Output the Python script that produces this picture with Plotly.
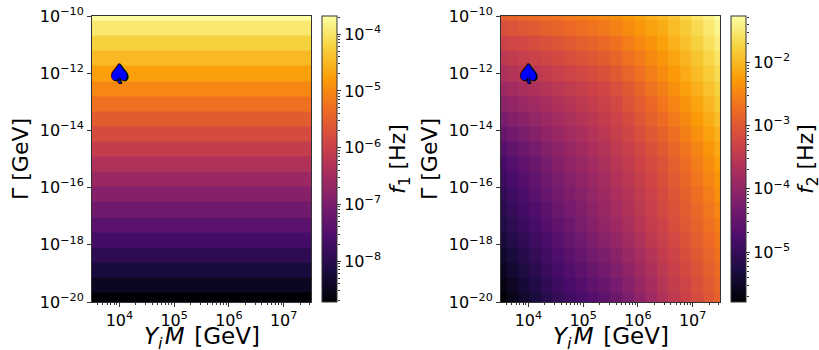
import plotly.graph_objects as go
import math

# ---------------- data (log10 exponents) ----------------
m_exp = [3.50, 3.71, 3.92, 4.13, 4.34, 4.55, 4.76, 4.97, 5.18, 5.39,
         5.61, 5.82, 6.03, 6.24, 6.45, 6.66, 6.87, 7.08, 7.29, 7.50]
gamma_exp = [-19.94, -19.41, -18.88, -18.36, -17.83, -17.30, -16.77, -16.24, -15.71, -15.18,
             -14.66, -14.13, -13.60, -13.07, -12.54, -12.01, -11.49, -10.96, -10.43, -9.90]

# f1 depends only on Gamma (one value per row, bottom -> top), log10 Hz
f1_exp = [-8.72, -8.46, -8.19, -7.93, -7.66, -7.40, -7.13, -6.87, -6.61, -6.34,
          -6.08, -5.81, -5.55, -5.28, -5.02, -4.76, -4.49, -4.23, -3.96, -3.70]

# f2 grid, rows bottom -> top (Gamma), columns left -> right (Y_i M), log10 Hz
f2_exp = [
    [-5.78, -5.62, -5.47, -5.31, -5.16, -5.01, -4.90, -4.80, -4.69, -4.58, -4.42, -4.23, -4.04, -3.85, -3.66, -3.49, -3.34, -3.19, -3.04, -2.89],
    [-5.67, -5.52, -5.36, -5.21, -5.06, -4.91, -4.80, -4.69, -4.57, -4.46, -4.31, -4.12, -3.94, -3.76, -3.58, -3.43, -3.28, -3.13, -2.98, -2.83],
    [-5.56, -5.41, -5.26, -5.11, -4.96, -4.82, -4.70, -4.58, -4.46, -4.34, -4.19, -4.02, -3.85, -3.68, -3.51, -3.36, -3.21, -3.06, -2.92, -2.77],
    [-5.45, -5.31, -5.16, -5.02, -4.87, -4.73, -4.60, -4.48, -4.35, -4.23, -4.08, -3.92, -3.76, -3.60, -3.44, -3.29, -3.14, -2.99, -2.85, -2.70],
    [-5.34, -5.20, -5.05, -4.91, -4.77, -4.63, -4.50, -4.37, -4.24, -4.11, -3.96, -3.81, -3.66, -3.51, -3.37, -3.22, -3.07, -2.93, -2.78, -2.64],
    [-5.23, -5.09, -4.95, -4.81, -4.67, -4.53, -4.40, -4.26, -4.13, -3.99, -3.86, -3.72, -3.57, -3.43, -3.29, -3.15, -3.00, -2.86, -2.71, -2.57],
    [-5.13, -4.99, -4.85, -4.71, -4.58, -4.44, -4.31, -4.18, -4.05, -3.93, -3.79, -3.65, -3.51, -3.37, -3.23, -3.09, -2.94, -2.79, -2.64, -2.49],
    [-5.03, -4.89, -4.75, -4.61, -4.48, -4.34, -4.22, -4.10, -3.98, -3.85, -3.72, -3.59, -3.45, -3.32, -3.18, -3.03, -2.88, -2.72, -2.57, -2.41],
    [-4.93, -4.79, -4.66, -4.52, -4.38, -4.25, -4.13, -4.02, -3.90, -3.78, -3.65, -3.52, -3.39, -3.25, -3.12, -2.97, -2.81, -2.65, -2.49, -2.33],
    [-4.83, -4.69, -4.56, -4.42, -4.28, -4.15, -4.04, -3.93, -3.81, -3.70, -3.57, -3.45, -3.32, -3.20, -3.07, -2.91, -2.75, -2.58, -2.42, -2.25],
    [-4.67, -4.54, -4.42, -4.29, -4.17, -4.04, -3.94, -3.83, -3.72, -3.62, -3.49, -3.36, -3.24, -3.11, -2.98, -2.82, -2.66, -2.49, -2.33, -2.16],
    [-4.47, -4.36, -4.25, -4.14, -4.02, -3.92, -3.82, -3.72, -3.62, -3.52, -3.40, -3.27, -3.14, -3.00, -2.87, -2.72, -2.55, -2.39, -2.22, -2.06],
    [-4.27, -4.17, -4.08, -3.98, -3.88, -3.79, -3.70, -3.61, -3.52, -3.44, -3.32, -3.18, -3.04, -2.90, -2.76, -2.61, -2.45, -2.28, -2.12, -1.96],
    [-4.07, -3.99, -3.91, -3.83, -3.75, -3.67, -3.59, -3.51, -3.42, -3.34, -3.23, -3.08, -2.94, -2.80, -2.65, -2.50, -2.34, -2.18, -2.02, -1.86],
    [-3.87, -3.80, -3.74, -3.67, -3.61, -3.54, -3.47, -3.40, -3.32, -3.25, -3.13, -2.99, -2.84, -2.69, -2.55, -2.39, -2.23, -2.08, -1.92, -1.76],
    [-3.68, -3.62, -3.56, -3.50, -3.44, -3.37, -3.30, -3.23, -3.17, -3.10, -2.99, -2.85, -2.71, -2.57, -2.43, -2.28, -2.13, -1.97, -1.82, -1.66],
    [-3.51, -3.45, -3.39, -3.33, -3.27, -3.21, -3.15, -3.08, -3.01, -2.95, -2.84, -2.71, -2.59, -2.46, -2.33, -2.18, -2.03, -1.88, -1.72, -1.57],
    [-3.33, -3.27, -3.22, -3.16, -3.10, -3.05, -2.98, -2.92, -2.86, -2.79, -2.70, -2.58, -2.46, -2.34, -2.22, -2.07, -1.92, -1.77, -1.62, -1.47],
    [-3.12, -3.07, -3.01, -2.96, -2.90, -2.85, -2.80, -2.74, -2.68, -2.62, -2.54, -2.44, -2.33, -2.21, -2.12, -1.98, -1.83, -1.68, -1.53, -1.38],
    [-2.90, -2.86, -2.81, -2.76, -2.72, -2.68, -2.63, -2.58, -2.53, -2.48, -2.41, -2.31, -2.21, -2.10, -2.00, -1.87, -1.72, -1.57, -1.43, -1.28],
]

# benchmark point (spade)
spade_m = [4.0]
spade_g = [-12.0]

# ticks
x_tickvals = [4, 5, 6, 7]
x_ticktext = ["10<sup>4</sup>", "10<sup>5</sup>", "10<sup>6</sup>", "10<sup>7</sup>"]
y_tickvals = [-20, -18, -16, -14, -12, -10]
y_ticktext = ["10<sup>\u221220</sup>", "10<sup>\u221218</sup>", "10<sup>\u221216</sup>",
              "10<sup>\u221214</sup>", "10<sup>\u221212</sup>", "10<sup>\u221210</sup>"]
cb1_tickvals = [-8, -7, -6, -5, -4]
cb1_ticktext = ["10<sup>\u22128</sup>", "10<sup>\u22127</sup>", "10<sup>\u22126</sup>",
                "10<sup>\u22125</sup>", "10<sup>\u22124</sup>"]
cb2_tickvals = [-5, -4, -3, -2]
cb2_ticktext = ["10<sup>\u22125</sup>", "10<sup>\u22124</sup>", "10<sup>\u22123</sup>",
                "10<sup>\u22122</sup>"]

cb1_range = [-8.72, -3.68]
cb2_range = [-5.79, -1.27]
x_range = [3.5, 7.5]
y_range = [-20, -10]

# ---------------- layout helpers ----------------
W, H = 819, 350
def px(x):
    return x / W
def py(y):
    return 1 - y / H

FONT = "DejaVu Sans"
AX = "#333333"

def minor_log(lo, hi):
    vals = []
    for n in range(math.floor(lo) - 1, math.ceil(hi) + 1):
        for k in range(2, 10):
            v = n + math.log10(k)
            if lo <= v <= hi:
                vals.append(v)
    return vals

def cbar(x_left, tv, tt):
    return dict(
        thickness=15, thicknessmode="pixels",
        len=(302 - 16) / H, lenmode="fraction",
        x=px(x_left), xanchor="left", xpad=0,
        y=py(159), yanchor="middle", ypad=0,
        outlinewidth=1, outlinecolor=AX,
        tickmode="array", tickvals=tv, ticktext=tt,
        ticks="outside", ticklen=4, tickwidth=1, tickcolor=AX,
        tickfont=dict(family=FONT, size=16, color="black"),
    )

fig = go.Figure()

z1 = [[v] * len(m_exp) for v in f1_exp]
fig.add_trace(go.Heatmap(
    x=m_exp, y=gamma_exp, z=z1, colorscale="Inferno",
    zmin=cb1_range[0], zmax=cb1_range[1], xaxis="x", yaxis="y",
    hoverinfo="skip", colorbar=cbar(322, cb1_tickvals, cb1_ticktext)))
fig.add_trace(go.Heatmap(
    x=m_exp, y=gamma_exp, z=f2_exp, colorscale="Inferno",
    zmin=cb2_range[0], zmax=cb2_range[1], xaxis="x2", yaxis="y2",
    hoverinfo="skip", colorbar=cbar(731, cb2_tickvals, cb2_ticktext)))

# dummy traces for the colorbar minor-tick axes
for ya in ("y3", "y4"):
    fig.add_trace(go.Scatter(x=[None], y=[None], xaxis="x" if ya == "y3" else "x2",
                             yaxis=ya, showlegend=False, hoverinfo="skip"))

minor_x = minor_log(x_range[0], x_range[1])

def xaxis(d0, d1, anchor):
    return dict(domain=[px(d0), px(d1)], range=x_range, anchor=anchor, automargin=False,
                tickmode="array", tickvals=x_tickvals, ticktext=x_ticktext,
                ticks="outside", ticklen=4, tickwidth=1, tickcolor=AX,
                showline=True, linecolor=AX, linewidth=1, mirror=True,
                showgrid=False, zeroline=False,
                tickfont=dict(family=FONT, size=16, color="black"),
                minor=dict(tickmode="array", tickvals=minor_x, ticks="outside",
                           ticklen=2, tickwidth=1, tickcolor=AX, showgrid=False))

def yaxis(anchor):
    return dict(domain=[py(302), py(16)], range=y_range, anchor=anchor, automargin=False,
                tickmode="array", tickvals=y_tickvals, ticktext=y_ticktext,
                ticks="outside", ticklen=4, tickwidth=1, tickcolor=AX,
                showline=True, linecolor=AX, linewidth=1, mirror=True,
                showgrid=False, zeroline=False,
                tickfont=dict(family=FONT, size=16, color="black"))

def minor_axis(over, pos, rng):
    return dict(overlaying=over, anchor="free", position=px(pos), side="right",
                automargin=False,
                range=rng, tickmode="array", tickvals=minor_log(rng[0], rng[1]),
                ticks="outside", ticklen=2, tickwidth=1, tickcolor=AX,
                showticklabels=False, showgrid=False, zeroline=False, showline=False)

ann = []
def add_ann(text, x, y, angle=0, size=22):
    ann.append(dict(text=text, x=px(x), y=py(y), xref="paper", yref="paper",
                    showarrow=False, textangle=angle, xanchor="center", yanchor="middle",
                    font=dict(family=FONT, size=size, color="black")))

add_ann("\u0393 [GeV]", 20, 159, -90)
add_ann("\u0393 [GeV]", 429, 159, -90)
xtitle = "<i>Y<sub>i</sub>\u200aM</i>\u200a [GeV]"
add_ann(xtitle, 201.5, 338, size=23)
add_ann(xtitle, 610.5, 338, size=23)
add_ann("<i>f</i><sub>1</sub> [Hz]", 399, 159, -90)
add_ann("<i>f</i><sub>2</sub> [Hz]", 807, 159, -90)

# benchmark spade marker, placed through the data axes
shadow = "1px 0 0 #000, -1px 0 0 #000, 0 1px 0 #000, 0 -1px 0 #000, 1px 1px 0 #000, -1px -1px 0 #000"
for xr, yr in (("x", "y"), ("x2", "y2")):
    for mx, gy in zip(spade_m, spade_g):
        ann.append(dict(text="\u2660", x=mx, y=gy, xref=xr, yref=yr, showarrow=False,
                        xanchor="center", yanchor="middle", yshift=-1,
                        font=dict(family=FONT, size=26, color="#0000ff", shadow=shadow)))

fig.update_layout(
    template="none",
    width=W, height=H, margin=dict(l=0, r=0, t=0, b=0, pad=0, autoexpand=False),
    paper_bgcolor="white", plot_bgcolor="white",
    font=dict(family=FONT, color="black"),
    showlegend=False,
    xaxis=xaxis(92, 311, "y"), yaxis=yaxis("x"),
    xaxis2=xaxis(501, 720, "y2"), yaxis2=yaxis("x2"),
    yaxis3=minor_axis("y", 337, cb1_range),
    yaxis4=minor_axis("y2", 746, cb2_range),
    annotations=ann,
)

fig.write_html("out.html", config={"displayModeBar": False},
               post_script="document.body.style.margin='0px';document.body.style.padding='0px';")
